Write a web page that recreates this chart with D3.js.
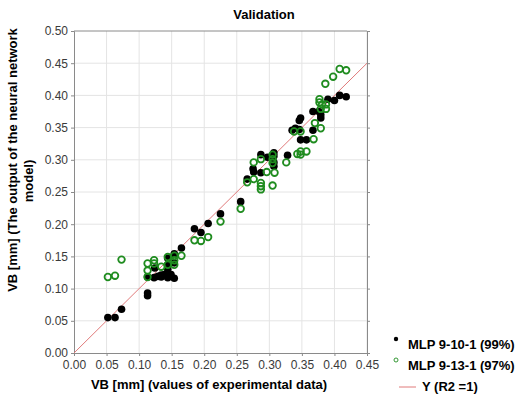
<!DOCTYPE html>
<html>
<head>
<meta charset="utf-8">
<script src="https://cdn.jsdelivr.net/npm/d3@7"></script>
<style>
  body { margin: 0; background: #fff; }
  text { font-family: "Liberation Sans", Arial, sans-serif; }
</style>
</head>
<body>
<div id="chartdiv"></div>
<script>
// data
var ticks = [0, 0.05, 0.10, 0.15, 0.20, 0.25, 0.30, 0.35, 0.40, 0.45];
var yTicks = [0, 0.05, 0.10, 0.15, 0.20, 0.25, 0.30, 0.35, 0.40, 0.45, 0.50];

var mlp10X = [0.052, 0.063, 0.073, 0.113, 0.113, 0.113, 0.123, 0.134, 0.134, 0.144, 0.154, 0.144, 0.124, 0.144, 0.154,
    0.165, 0.185, 0.195, 0.206, 0.225, 0.256, 0.266, 0.275, 0.276, 0.287, 0.297, 0.307, 0.307, 0.307, 0.307,
    0.287, 0.328, 0.346, 0.346, 0.348, 0.357, 0.367, 0.367, 0.376, 0.379, 0.379, 0.348, 0.335, 0.340, 0.390,
    0.400, 0.408, 0.418, 0.144, 0.154, 0.129, 0.139, 0.149];
var mlp10Y = [0.055, 0.055, 0.068, 0.093, 0.089, 0.118, 0.117, 0.118, 0.121, 0.117, 0.116, 0.130, 0.132, 0.147, 0.154,
    0.163, 0.193, 0.187, 0.201, 0.216, 0.235, 0.270, 0.286, 0.281, 0.308, 0.304, 0.311, 0.306, 0.296, 0.290,
    0.280, 0.307, 0.361, 0.347, 0.331, 0.331, 0.346, 0.375, 0.375, 0.370, 0.365, 0.365, 0.346, 0.349, 0.394,
    0.392, 0.400, 0.398, 0.137, 0.140, 0.119, 0.122, 0.122];

var mlp13X = [0.052, 0.063, 0.073, 0.113, 0.113, 0.113, 0.123, 0.123, 0.134, 0.144, 0.144, 0.154, 0.154, 0.154, 0.165,
    0.185, 0.195, 0.206, 0.225, 0.256, 0.266, 0.276, 0.276, 0.287, 0.287, 0.287, 0.287, 0.296, 0.305, 0.305,
    0.305, 0.308, 0.305, 0.326, 0.343, 0.348, 0.348, 0.357, 0.338, 0.348, 0.368, 0.370, 0.379, 0.377, 0.377,
    0.381, 0.387, 0.387, 0.379, 0.386, 0.398, 0.408, 0.418];
var mlp13Y = [0.118, 0.120, 0.145, 0.139, 0.128, 0.118, 0.144, 0.139, 0.134, 0.149, 0.137, 0.151, 0.144, 0.137, 0.151,
    0.175, 0.174, 0.180, 0.204, 0.224, 0.265, 0.296, 0.270, 0.301, 0.264, 0.259, 0.254, 0.281, 0.308, 0.301,
    0.295, 0.280, 0.260, 0.296, 0.309, 0.313, 0.308, 0.313, 0.344, 0.344, 0.332, 0.357, 0.349, 0.394, 0.389,
    0.386, 0.386, 0.379, 0.379, 0.418, 0.429, 0.441, 0.439];

var legendNames = ["MLP 9-10-1 (99%)", "MLP 9-13-1 (97%)", "Y (R2 =1)"];

var svgWidth = 531;
var svgHeight = 398;
var margin = { top: 31, left: 74, right: 164, bottom: 45 };
var width = svgWidth - margin.left - margin.right;
var height = svgHeight - margin.top - margin.bottom;

var green = "#1f8c1f";
var red = "#e07a7a";

var svg = d3.select("#chartdiv")
    .append("svg")
    .attr("width", svgWidth)
    .attr("height", svgHeight);

var chartGroup = svg.append("g")
    .attr("transform", `translate(${margin.left}, ${margin.top})`);

var xScale = d3.scaleLinear().domain([0, 0.45]).range([0, width]);
var yScale = d3.scaleLinear().domain([0, 0.5]).range([height, 0]);

// grid
chartGroup.append("g")
    .selectAll("line")
    .data(ticks.slice(1))
    .enter()
    .append("line")
    .attr("x1", d => xScale(d)).attr("x2", d => xScale(d))
    .attr("y1", 0).attr("y2", height)
    .attr("stroke", "#e4e4e4");

chartGroup.append("g")
    .selectAll("line")
    .data(yTicks.slice(1, -1))
    .enter()
    .append("line")
    .attr("x1", 0).attr("x2", width)
    .attr("y1", d => yScale(d)).attr("y2", d => yScale(d))
    .attr("stroke", "#e4e4e4");

// axes
var bottomAxis = d3.axisBottom(xScale).tickValues(ticks).tickFormat(d3.format(".2f")).tickSize(3);
var leftAxis = d3.axisLeft(yScale).tickValues(yTicks).tickFormat(d3.format(".2f")).tickSize(3);
var rightAxis = d3.axisRight(yScale).tickValues(yTicks).tickFormat("").tickSize(3);

var xg = chartGroup.append("g")
    .attr("transform", `translate(0, ${height})`)
    .call(bottomAxis);
var yg = chartGroup.append("g").call(leftAxis);
var rg = chartGroup.append("g")
    .attr("transform", `translate(${width}, 0)`)
    .call(rightAxis);

[xg, yg, rg].forEach(function (g) {
    g.select(".domain").attr("stroke", "#8a8a8a");
    g.selectAll(".tick line").attr("stroke", "#8a8a8a");
    g.selectAll(".tick text")
        .attr("fill", "#3a3a3a")
        .style("font-size", "12px")
        .style("font-family", "Liberation Sans, Arial, sans-serif");
});
xg.selectAll(".tick text").attr("dy", "0.85em");

chartGroup.append("line")
    .attr("x1", 0).attr("x2", width)
    .attr("y1", 0).attr("y2", 0)
    .attr("stroke", "#8a8a8a");

// Y = X line
chartGroup.append("line")
    .attr("x1", xScale(0)).attr("y1", yScale(0))
    .attr("x2", xScale(0.45)).attr("y2", yScale(0.45))
    .attr("stroke", red)
    .attr("stroke-width", 1);

// points
chartGroup.append("g")
    .selectAll("circle")
    .data(mlp10X)
    .enter()
    .append("circle")
    .attr("cx", d => xScale(d))
    .attr("cy", (d, i) => yScale(mlp10Y[i]))
    .attr("r", 3.8)
    .attr("fill", "#000");

chartGroup.append("g")
    .selectAll("circle")
    .data(mlp13X)
    .enter()
    .append("circle")
    .attr("cx", d => xScale(d))
    .attr("cy", (d, i) => yScale(mlp13Y[i]))
    .attr("r", 3.3)
    .attr("fill", "none")
    .attr("stroke", green)
    .attr("stroke-width", 1.8);

// titles
svg.append("text")
    .attr("x", 264).attr("y", 19)
    .attr("text-anchor", "middle")
    .style("font-size", "13px")
    .style("font-weight", "bold")
    .text("Validation");

svg.append("text")
    .attr("x", 209).attr("y", 389)
    .attr("text-anchor", "middle")
    .style("font-size", "13px")
    .style("font-weight", "bold")
    .text("VB [mm] (values of experimental data)");

svg.append("text")
    .attr("transform", "translate(17, 160) rotate(-90)")
    .attr("text-anchor", "middle")
    .style("font-size", "13px")
    .style("font-weight", "bold")
    .text("VB [mm] (The output of the neural network");

svg.append("text")
    .attr("transform", "translate(33, 181) rotate(-90)")
    .attr("text-anchor", "middle")
    .style("font-size", "13px")
    .style("font-weight", "bold")
    .text("model)");

// legend
var legend = svg.append("g");
var rowsY = [344, 365, 386];

legend.append("circle")
    .attr("cx", 396).attr("cy", rowsY[0] - 5)
    .attr("r", 2.2).attr("fill", "#000");
legend.append("circle")
    .attr("cx", 396).attr("cy", rowsY[1] - 5)
    .attr("r", 2).attr("fill", "none")
    .attr("stroke", green).attr("stroke-width", 0.9);
legend.append("line")
    .attr("x1", 399).attr("x2", 416)
    .attr("y1", rowsY[2] + 1).attr("y2", rowsY[2] + 1)
    .attr("stroke", red);

legend.selectAll("text")
    .data(legendNames)
    .enter()
    .append("text")
    .attr("x", (d, i) => i == 2 ? 422 : 408)
    .attr("y", (d, i) => rowsY[i])
    .attr("dy", "0.35em")
    .style("font-size", "13px")
    .style("font-weight", "bold")
    .text(d => d);
</script>
</body>
</html>
